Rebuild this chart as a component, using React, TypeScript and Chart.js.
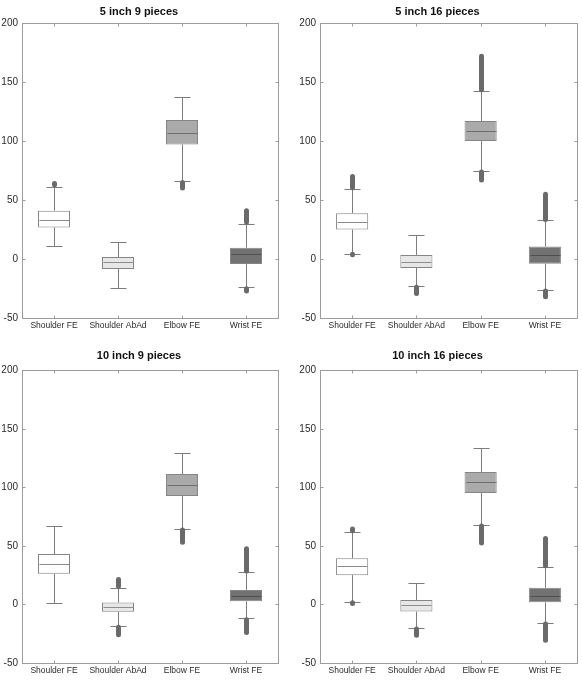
import React, { useEffect, useRef } from 'react';
import { Chart, registerables } from 'chart.js';

Chart.register(...registerables);

// Joint angle distributions (degrees) for each puzzle configuration
const categories = ['Shoulder FE', 'Shoulder AbAd', 'Elbow FE', 'Wrist FE'];
const panelTitles = ['5 inch 9 pieces', '5 inch 16 pieces', '10 inch 9 pieces', '10 inch 16 pieces'];
const yTickValues = [-50, 0, 50, 100, 150, 200];

// One row per panel, one value per joint
const whiskerLow = [
  [10.7, -24.6, 66, -24],
  [4.6, -23.1, 74.6, -26],
  [1.6, -18.5, 64.5, -12],
  [2.4, -20.3, 68, -15.8],
];
const lowerQuartile = [
  [26.8, -8.5, 97.2, -4.2],
  [25, -7.5, 100, -4],
  [26.2, -6.3, 92.6, 2.7],
  [25, -6.1, 95.2, 1.8],
];
const medians = [
  [33, -2.5, 107, 4],
  [31, -2.2, 108.8, 3.2],
  [34.2, -1.8, 102.2, 7.5],
  [33, -0.4, 104.3, 7.5],
];
const upperQuartile = [
  [41, 1.7, 118, 9.6],
  [38.9, 3.5, 117, 10.7],
  [43, 1.6, 111.3, 12.4],
  [39.5, 3.8, 113.1, 14.3],
];
const whiskerHigh = [
  [61.5, 14.7, 137.6, 30],
  [59.3, 20.2, 142.8, 32.7],
  [66.8, 14.3, 129.7, 27.4],
  [62.1, 18.2, 133.7, 31.8],
];
type Span = [number, number] | null;
// Extent of the outlier markers above / below the whiskers
const outliersAbove: Span[][] = [
  [[63, 64], null, null, [31.5, 41]],
  [[60.5, 70], null, [143.5, 172], [33.5, 55]],
  [null, [15.5, 21.4], null, [28.5, 47.5]],
  [[63, 64.4], null, null, [33, 56.4]],
];
const outliersBelow: Span[][] = [
  [null, null, [60.2, 65], [-27, -25.2]],
  [[3.6, 4], [-29.3, -24], [67, 73.8], [-32, -27]],
  [null, [-25.9, -19.5], [53.2, 63.5], [-24, -13]],
  [[0.8, 1.4], [-26.2, -21], [52.5, 67], [-30.5, -16.6]],
];

const boxFills = ['#ffffff', '#e7e7e7', '#aaaaaa', '#727272'];
const medianColors = ['#8a8a8a', '#8e8e8e', '#6e6e6e', '#4e4e4e'];
const FONT = "'Liberation Sans', Arial, Helvetica, sans-serif";

const crisp = (v: number) => Math.round(v) + 0.5;

const boxPartsPlugin = {
  id: 'boxParts',
  afterDatasetsDraw(chart: any, _args: any, opts: any) {
    const { ctx, chartArea, scales } = chart;
    const xs = scales.x;
    const ys = scales.y;
    const p = opts.panel as number;
    const meta = chart.getDatasetMeta(0);
    const line = (x1: number, y1: number, x2: number, y2: number) => {
      ctx.beginPath();
      ctx.moveTo(x1, y1);
      ctx.lineTo(x2, y2);
      ctx.stroke();
    };
    ctx.save();
    categories.forEach((_c, i) => {
      const bar = meta.data[i];
      const cx = crisp(xs.getPixelForValue(i));
      const half = bar.width / 2;
      const capHalf = half / 2;
      // whiskers and caps
      ctx.strokeStyle = '#7c7c7c';
      ctx.lineWidth = 1;
      ctx.lineCap = 'butt';
      const yHi = crisp(ys.getPixelForValue(whiskerHigh[p][i]));
      const yLo = crisp(ys.getPixelForValue(whiskerLow[p][i]));
      line(cx, ys.getPixelForValue(upperQuartile[p][i]), cx, yHi);
      line(cx, ys.getPixelForValue(lowerQuartile[p][i]), cx, yLo);
      line(cx - capHalf, yHi, cx + capHalf, yHi);
      line(cx - capHalf, yLo, cx + capHalf, yLo);
      // median
      ctx.strokeStyle = medianColors[i];
      const yMed = crisp(ys.getPixelForValue(medians[p][i]));
      line(cx - half + 1, yMed, cx + half - 1, yMed);
      // outliers
      ctx.strokeStyle = '#6a6a6a';
      ctx.lineWidth = 5;
      ctx.lineCap = 'round';
      [outliersAbove[p][i], outliersBelow[p][i]].forEach((s) => {
        if (!s) return;
        line(cx, ys.getPixelForValue(s[0]), cx, ys.getPixelForValue(s[1]));
      });
    });
    // axes frame with inward ticks
    ctx.lineCap = 'butt';
    ctx.lineWidth = 1;
    ctx.strokeStyle = '#9c9c9c';
    const L = crisp(chartArea.left);
    const R = crisp(chartArea.right);
    const T = crisp(chartArea.top);
    const B = crisp(chartArea.bottom);
    ctx.strokeRect(L, T, R - L, B - T);
    const tl = 3;
    yTickValues.forEach((v) => {
      const yy = crisp(ys.getPixelForValue(v));
      line(L, yy, L + tl, yy);
      line(R, yy, R - tl, yy);
    });
    categories.forEach((_c, i) => {
      const xx = crisp(xs.getPixelForValue(i));
      line(xx, T, xx, T + tl);
      line(xx, B, xx, B - tl);
    });
    ctx.restore();
  },
};

function BoxPanel({ panel }: { panel: number }) {
  const ref = useRef<HTMLCanvasElement>(null);
  useEffect(() => {
    if (!ref.current) return;
    const col = panel % 2;
    const row = Math.floor(panel / 2);
    const chart = new Chart(ref.current, {
      type: 'bar',
      data: {
        labels: categories,
        datasets: [
          {
            data: categories.map((_c, i) => [lowerQuartile[panel][i], upperQuartile[panel][i]]),
            backgroundColor: boxFills,
            borderColor: '#858585',
            borderWidth: 1,
            borderSkipped: false,
            barPercentage: 0.5,
            categoryPercentage: 1,
          },
        ],
      },
      options: {
        responsive: false,
        animation: false,
        events: [],
        layout: {
          padding: { left: col === 1 ? 7 : 0, right: col === 1 ? 5 : 13, top: 0, bottom: 0 },
        },
        plugins: {
          legend: { display: false },
          tooltip: { enabled: false },
          title: {
            display: true,
            text: panelTitles[panel],
            color: '#111',
            font: { family: FONT, size: 11, weight: 'bold' },
            padding: row === 0 ? { top: 5, bottom: 5 } : { top: 9, bottom: 8 },
          },
          boxParts: { panel },
        } as any,
        scales: {
          x: {
            type: 'category',
            offset: true,
            grid: { display: false, drawTicks: false },
            border: { display: false },
            ticks: {
              color: '#2a2a2a',
              font: { family: FONT, size: 8.5 },
              padding: 3,
              maxRotation: 0,
              autoSkip: false,
            },
            afterFit: (s: any) => {
              s.height = row === 0 ? 22 : 17;
            },
          },
          y: {
            min: -50,
            max: 200,
            grid: { display: false, drawTicks: false },
            border: { display: false },
            ticks: {
              stepSize: 50,
              color: '#2a2a2a',
              font: { family: FONT, size: 10 },
              padding: 4,
            },
            afterFit: (s: any) => {
              s.width = 22;
            },
          },
        },
      },
      plugins: [boxPartsPlugin],
    });
    return () => chart.destroy();
  }, [panel]);
  return (
    <div style={{ width: 291, height: 340 }}>
      <canvas ref={ref} width={291} height={340} style={{ display: 'block' }} />
    </div>
  );
}

export default function App() {
  return (
    <div
      style={{
        position: 'absolute',
        left: 0,
        top: 0,
        width: 582,
        height: 680,
        background: '#ffffff',
        display: 'grid',
        gridTemplateColumns: '291px 291px',
        gridTemplateRows: '340px 340px',
      }}
    >
      {panelTitles.map((_t, i) => (
        <BoxPanel key={i} panel={i} />
      ))}
    </div>
  );
}
